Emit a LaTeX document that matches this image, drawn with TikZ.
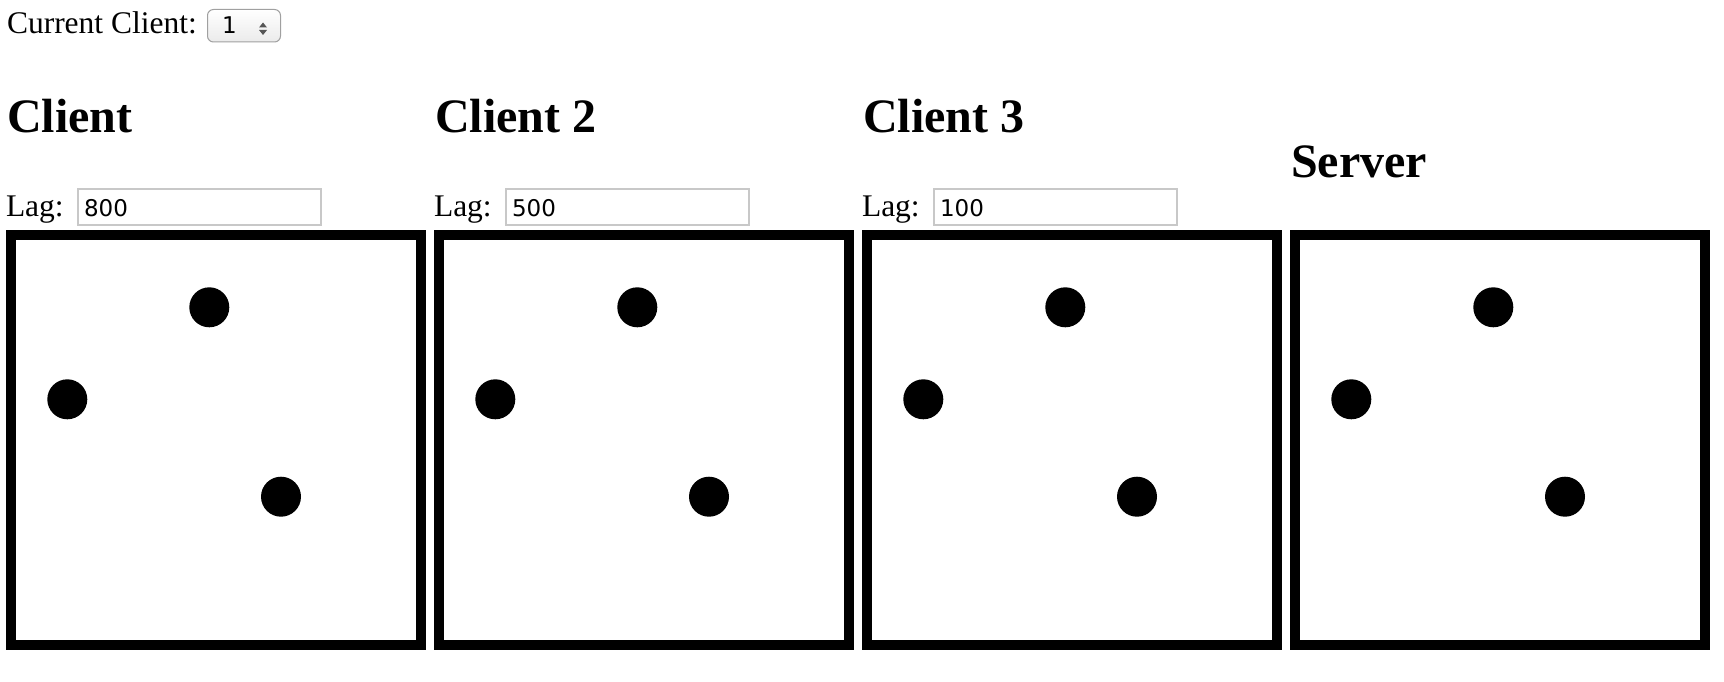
\documentclass[tikz,border=0pt]{standalone}
\usepackage{fontspec}
\setmainfont{Liberation Serif}
\newfontfamily\inputfont{DejaVu Sans}
\usetikzlibrary{shadings}
\definecolor{fieldgray}{RGB}{200,200,200}
\definecolor{selborder}{RGB}{160,160,160}
\definecolor{arrowgray}{RGB}{85,85,85}
\begin{document}
\begin{tikzpicture}[x=1pt,y=-1pt,
  body/.style={font=\fontsize{31.5}{36}\selectfont, inner sep=0pt, outer sep=0pt, anchor=base west},
  heading/.style={font=\fontsize{48}{56}\selectfont\bfseries, inner sep=0pt, outer sep=0pt, anchor=base west},
  field/.style={draw=fieldgray, line width=2pt, fill=white, minimum width=243pt, minimum height=36pt, inner sep=0pt, outer sep=0pt, anchor=north west},
  fieldtext/.style={font=\inputfont\fontsize{23}{27}\selectfont, inner sep=0pt, outer sep=0pt, anchor=base west},
  canvasbox/.style={draw=black, line width=10pt, fill=white, minimum width=410pt, minimum height=410pt, inner sep=0pt, outer sep=0pt, anchor=north west},
  dot/.style={circle, fill=black, minimum size=40pt, inner sep=0pt, outer sep=0pt},
  selectbox/.style={draw=selborder, line width=1pt, rounded corners=6pt, top color=white, bottom color=black!8, minimum width=73pt, minimum height=32.5pt, inner sep=0pt, outer sep=0pt, anchor=north west},
  tri/.style={fill=arrowgray}]
\useasboundingbox (0,0) rectangle (1724,682);
\fill[white] (0,0) rectangle (1724,682);

% top control
\node[body] (cur) at (7,34) {Current Client:};
\node[selectbox] (sel) at (207.5,9.5) {};
\node[fieldtext] (selval) at (222,33.5) {1};
\coordinate (up) at (263,22.5);
\coordinate (dn) at (263,35);
\fill[tri] (up) -- ++(4,5) -- ++(-8,0) -- cycle;
\fill[tri] (dn) -- ++(4,-5) -- ++(-8,0) -- cycle;

% headings
\node[heading] (h1) at (7,132) {Client};
\node[heading] (h2) at (435,132) {Client 2};
\node[heading] (h3) at (863,132) {Client 3};
\node[heading] (h4) at (1291,177) {Server};

% lag rows
\foreach \k/\v in {0/800,1/500,2/100}{
  \pgfmathsetmacro{\ox}{428*\k}
  \node[body] (lag\k) at (\ox+6,216) {Lag:};
  \node[field] (fld\k) at (\ox+78,189) {};
  \node[fieldtext] (val\k) at (\ox+84,216) {\v};
}

% canvases with dots
\foreach \k in {0,1,2,3}{
  \pgfmathsetmacro{\ox}{428*\k}
  \node[canvasbox] (box\k) at (\ox+11,235) {};
  \node[dot] (a\k) at (\ox+209.3,307.3) {};
  \node[dot] (b\k) at (\ox+67.3,399.3) {};
  \node[dot] (c\k) at (\ox+281,496.7) {};
}
\end{tikzpicture}
\end{document}
